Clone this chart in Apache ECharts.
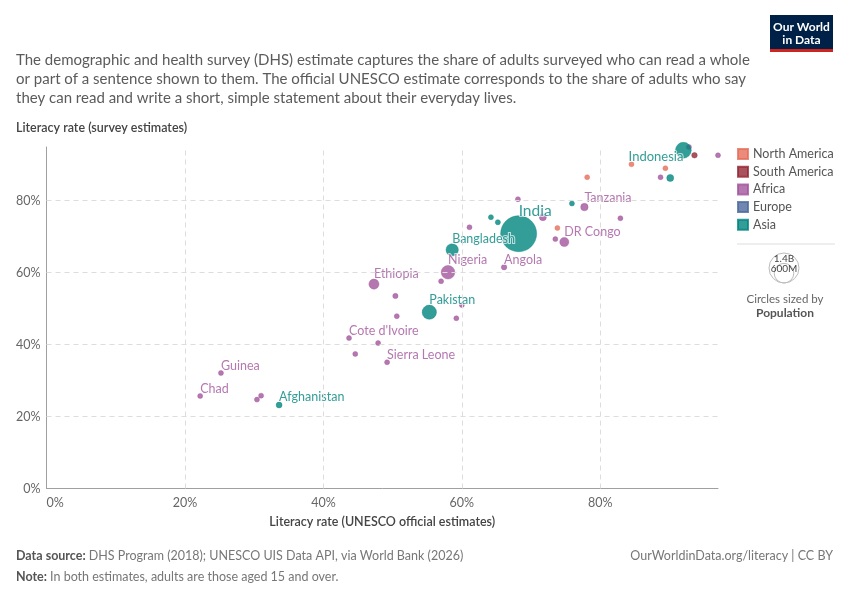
<!DOCTYPE html>
<html><head><meta charset="utf-8">
<script src="https://cdn.jsdelivr.net/npm/echarts@6/dist/echarts.min.js"></script>
<style>html,body{margin:0;padding:0;background:#fff}#c{width:850px;height:600px}</style>
</head><body><div id="c"></div>
<script>
// ---- DATA: [country, UNESCO literacy %, DHS survey literacy %, population (millions)] ----
const continents = ['North America', 'South America', 'Africa', 'Europe', 'Asia'];
const northAmerica = [
  ['Dominican Republic', 84.5, 90.1, 11],
  ['Guatemala', 89.4, 89.0, 17],
  ['Honduras', 78.1, 86.5, 10],
  ['Haiti', 73.8, 72.4, 11]
];
const southAmerica = [
  ['Peru', 93.6, 92.6, 33]
];
const africa = [
  ['Namibia', 92.8, 94.9, 2.5],
  ['Eswatini', 97.0, 92.6, 1.2],
  ['Gabon', 88.7, 86.5, 2.2],
  ['Tanzania', 77.7, 78.2, 60],
  ['Zambia', 68.1, 80.4, 18],
  ['Kenya', 71.7, 75.4, 53],
  ['Congo', 82.9, 75.1, 5],
  ['Rwanda', 61.1, 72.6, 13],
  ['Malawi', 73.5, 69.3, 19],
  ['DR Congo', 74.8, 68.5, 90],
  ['Nigeria', 58.0, 60.1, 200],
  ['Angola', 66.1, 61.5, 32],
  ['Togo', 57.0, 57.6, 8],
  ['Ethiopia', 47.3, 56.8, 110],
  ['Mozambique', 50.4, 53.5, 30],
  ['Liberia', 60.0, 51.0, 5],
  ['Senegal', 50.6, 47.9, 16],
  ['Gambia', 59.2, 47.3, 2.4],
  ["Cote d'Ivoire", 43.7, 41.8, 26],
  ['Benin', 47.9, 40.4, 12],
  ['Burkina Faso', 44.6, 37.4, 21],
  ['Sierra Leone', 49.2, 35.1, 8],
  ['Guinea', 25.2, 32.1, 13],
  ['Chad', 22.2, 25.7, 16],
  ['Niger', 31.0, 25.8, 23],
  ['Mali', 30.4, 24.7, 20]
];
const europe = [];
const asia = [
  ['Indonesia', 92.0, 94.0, 270],
  ['Myanmar', 90.1, 86.3, 53],
  ['Cambodia', 75.9, 79.2, 16],
  ['Timor-Leste', 64.2, 75.4, 1.3],
  ['Nepal', 65.2, 74.0, 28],
  ['India', 68.2, 70.8, 1400],
  ['Bangladesh', 58.6, 66.3, 165],
  ['Pakistan', 55.3, 49.0, 220],
  ['Afghanistan', 33.6, 23.2, 38]
];
const labeledCountries = ['Indonesia', 'India', 'Tanzania', 'DR Congo', 'Bangladesh', 'Nigeria', 'Angola',
  'Ethiopia', 'Pakistan', "Cote d'Ivoire", 'Sierra Leone', 'Guinea', 'Chad', 'Afghanistan'];
const gridTicks = [20, 40, 60, 80];
const sizeLegend = [['1.4B', 1400], ['600M', 600]];

// ---- STYLE ----
const COLORS = { 'North America': '#E56E5A', 'South America': '#932834', 'Africa': '#A2559C', 'Europe': '#4C6A9C', 'Asia': '#00847E' };
const byContinent = { 'North America': northAmerica, 'South America': southAmerica, 'Africa': africa, 'Europe': europe, 'Asia': asia };
const labelOverrides = {
  'Indonesia': { align: 'right', dy: 7, fontSize: 13 },
  'India': { fontSize: 15.5 }
};
const FONT = 'Lato, "Noto Sans", sans-serif';
const sizeOf = pop => Math.max(5, 36 * Math.sqrt(pop / 1400));

const series = continents.map(cont => {
  const rows = byContinent[cont].slice().sort((a, b) => b[3] - a[3]);
  return {
    name: cont,
    type: 'scatter',
    z: 2,
    symbolSize: v => sizeOf(v[2]),
    itemStyle: { color: COLORS[cont], opacity: 0.8, borderColor: COLORS[cont], borderWidth: 0.5 },
    emphasis: { disabled: true },
    data: rows.map(r => {
      const item = { name: r[0], value: [r[1], r[2], r[3]] };
      if (labeledCountries.includes(r[0])) {
        const o = labelOverrides[r[0]] || {};
        const s = sizeOf(r[3]);
        item.label = {
          show: true,
          formatter: '{b}',
          position: 'inside',
          align: o.align || 'left',
          verticalAlign: 'middle',
          offset: [0, o.dy !== undefined ? o.dy : -(s / 2 + 5)],
          color: COLORS[cont],
          fontSize: o.fontSize || 12.5,
          fontFamily: FONT,
          textBorderColor: 'rgba(255,255,255,0.85)',
          textBorderWidth: 2
        };
      }
      return item;
    })
  };
});

series.unshift({
  name: 'gridlines',
  type: 'scatter',
  z: 1,
  data: [],
  markLine: {
    silent: true,
    symbol: ['none', 'none'],
    label: { show: false },
    lineStyle: { color: '#dddddd', width: 1, type: [5, 4] },
    emphasis: { disabled: true },
    data: gridTicks.map(v => ({ xAxis: v })).concat(gridTicks.map(v => ({ yAxis: v })))
  }
});

const chart = echarts.init(document.getElementById('c'), null, { renderer: 'canvas' });
const axisCommon = {
  type: 'value',
  min: 0,
  max: 'dataMax',
  interval: 20,
  axisLine: { show: true, lineStyle: { color: '#a0a0a0', width: 1 } },
  axisTick: { show: false },
  splitLine: { show: false },
  axisLabel: { formatter: '{value}%', color: '#666', fontSize: 12.5, fontFamily: FONT, showMaxLabel: false }
};
const legCx = 784, legBottom = 283, legMaxR = 15;
const sizeGraphics = [];
sizeLegend.forEach(([lab, pop]) => {
  const r = legMaxR * Math.sqrt(pop / sizeLegend[0][1]);
  sizeGraphics.push({ type: 'circle', shape: { cx: legCx, cy: legBottom - r, r: r }, style: { fill: 'none', stroke: '#bbb', lineWidth: 1 }, silent: true });
  sizeGraphics.push({ type: 'text', x: legCx, y: legBottom - 2 * r + 5.5, style: { text: lab, fontSize: 10, fill: '#444', fontFamily: FONT, align: 'center', verticalAlign: 'middle' }, silent: true });
});

chart.setOption({
  animation: false,
  textStyle: { fontFamily: FONT },
  grid: { left: 46.5, right: 132, top: 147, bottom: 111.5, containLabel: false },
  xAxis: Object.assign({}, axisCommon, {
    name: 'Literacy rate (UNESCO official estimates)',
    nameLocation: 'middle',
    nameGap: 27,
    nameTextStyle: { color: '#444', fontSize: 12.5, fontWeight: 600, fontFamily: FONT },
    axisLabel: Object.assign({}, axisCommon.axisLabel, { margin: 8, alignMinLabel: 'left' })
  }),
  yAxis: Object.assign({}, axisCommon, {
    axisLabel: Object.assign({}, axisCommon.axisLabel, { margin: 6 })
  }),
  legend: {
    data: continents,
    orient: 'vertical',
    left: 732,
    top: 142,
    icon: 'rect',
    itemWidth: 10,
    itemHeight: 10,
    itemGap: 3.7,
    selectedMode: false,
    textStyle: { fontSize: 12.5, color: '#555', fontFamily: FONT, lineHeight: 14 }
  },
  graphic: [
    { type: 'rect', shape: { x: 770, y: 15, width: 63, height: 37 }, style: { fill: '#002147' }, silent: true },
    { type: 'rect', shape: { x: 770, y: 49, width: 63, height: 3 }, style: { fill: '#CE261E' }, silent: true },
    { type: 'text', x: 801.5, y: 27, style: { text: 'Our World', fontSize: 12, fontWeight: 'bold', fill: '#fff', fontFamily: '"Liberation Sans Narrow", Lato, sans-serif', align: 'center', verticalAlign: 'middle' }, silent: true },
    { type: 'text', x: 801.5, y: 40, style: { text: 'in Data', fontSize: 12, fontWeight: 'bold', fill: '#fff', fontFamily: '"Liberation Sans Narrow", Lato, sans-serif', align: 'center', verticalAlign: 'middle' }, silent: true },
    { type: 'text', x: 16, y: 51, style: {
      text: 'The demographic and health survey (DHS) estimate captures the share of adults surveyed who can read a whole\nor part of a sentence shown to them. The official UNESCO estimate corresponds to the share of adults who say\nthey can read and write a short, simple statement about their everyday lives.',
      fontSize: 15, lineHeight: 19, fill: '#5b5b5b', fontFamily: FONT }, silent: true },
    { type: 'text', x: 16, y: 121, style: { text: 'Literacy rate (survey estimates)', fontSize: 12.5, fontWeight: 600, fill: '#444', fontFamily: FONT }, silent: true },
    { type: 'line', shape: { x1: 737, y1: 244, x2: 835, y2: 244 }, style: { stroke: '#ddd', lineWidth: 1 }, silent: true },
    ...sizeGraphics,
    { type: 'text', x: legCx + 1, y: 299, style: { text: 'Circles sized by', fontSize: 11.5, fill: '#666', fontFamily: FONT, align: 'center', verticalAlign: 'middle' }, silent: true },
    { type: 'text', x: legCx + 1, y: 313, style: { text: 'Population', fontSize: 12, fontWeight: 'bold', fill: '#555', fontFamily: FONT, align: 'center', verticalAlign: 'middle' }, silent: true },
    { type: 'text', x: 16, y: 556, style: {
      text: '{b|Data source:} {n|DHS Program (2018); UNESCO UIS Data API, via World Bank (2026)}',
      verticalAlign: 'middle', fontFamily: FONT,
      rich: { b: { fontSize: 12.5, fontWeight: 'bold', fill: '#555', fontFamily: FONT }, n: { fontSize: 12.5, fill: '#777', fontFamily: FONT } } }, silent: true },
    { type: 'text', x: 16, y: 577, style: {
      text: '{b|Note:} {n|In both estimates, adults are those aged 15 and over.}',
      verticalAlign: 'middle', fontFamily: FONT,
      rich: { b: { fontSize: 12.5, fontWeight: 'bold', fill: '#555', fontFamily: FONT }, n: { fontSize: 12.5, fill: '#777', fontFamily: FONT } } }, silent: true },
    { type: 'text', x: 833, y: 556, style: { text: 'OurWorldinData.org/literacy | CC BY', fontSize: 12.5, fill: '#777', fontFamily: FONT, align: 'right', verticalAlign: 'middle' }, silent: true }
  ],
  series: series
});
</script>
</body></html>
